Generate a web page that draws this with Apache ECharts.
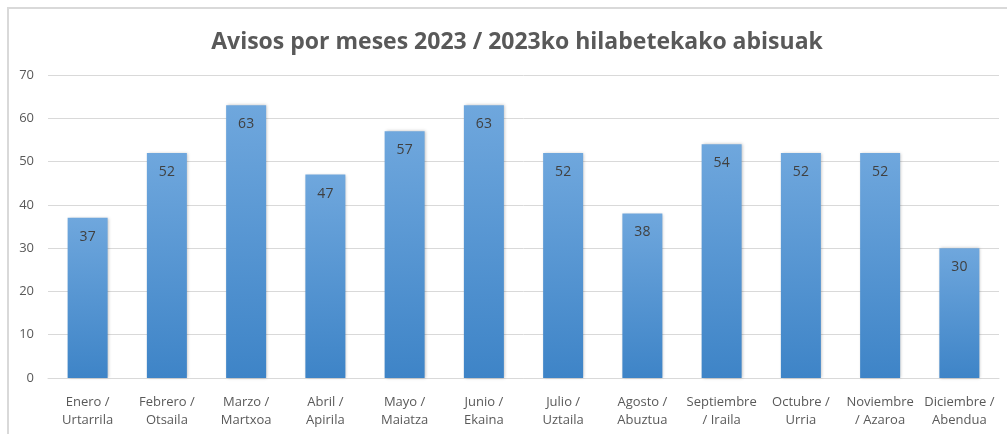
<!DOCTYPE html>
<html>
<head>
<meta charset="utf-8">
<script src="https://cdn.jsdelivr.net/npm/echarts@6/dist/echarts.min.js"></script>
<style>
html, body { margin: 0; padding: 0; background: #fff; }
#frame { position: absolute; left: 7px; top: 7px; width: 1000px; height: 427px; border-left: 2px solid #d9d9d9; border-top: 2px solid #d9d9d9; box-sizing: border-box; }
#chart { position: absolute; left: 0; top: 0; width: 1007px; height: 434px; }
</style>
</head>
<body>
<div id="frame"></div>
<div id="chart"></div>
<script>
const titleText = "Avisos por meses 2023 / 2023ko hilabetekako abisuak"
const months = [
	"Enero /\nUrtarrila", "Febrero /\nOtsaila", "Marzo /\nMartxoa", "Abril /\nApirila",
	"Mayo /\nMaiatza", "Junio /\nEkaina", "Julio /\nUztaila", "Agosto /\nAbuztua",
	"Septiembre\n/ Iraila", "Octubre /\nUrria", "Noviembre\n/ Azaroa", "Diciembre /\nAbendua",
]
const avisos = [37, 52, 63, 47, 57, 63, 52, 38, 54, 52, 52, 30]

const font = "'Open Sans', 'Noto Sans', sans-serif"
const chart = echarts.init(document.getElementById("chart"))
chart.setOption({
	animation: false,
	title: {
		text: titleText,
		left: 512,
		textAlign: "center",
		top: 26,
		textStyle: { color: "#595959", fontSize: 23, fontWeight: "bold", fontFamily: font },
	},
	grid: { left: 48, right: 8, top: 75, bottom: 56 },
	xAxis: {
		type: "category",
		data: months,
		axisTick: { show: false },
		axisLine: { lineStyle: { color: "#d9d9d9", width: 1 } },
		axisLabel: { color: "#595959", fontSize: 13, fontFamily: font, lineHeight: 18, margin: 15, interval: 0 },
	},
	yAxis: {
		type: "value",
		min: 0,
		max: 70,
		interval: 10,
		axisLabel: { color: "#595959", fontSize: 13, fontFamily: font, margin: 14 },
		splitLine: { lineStyle: { color: "#d9d9d9", width: 1 } },
	},
	series: [
		{
			type: "bar",
			data: avisos,
			barWidth: 40,
			itemStyle: {
				color: new echarts.graphic.LinearGradient(0, 0, 0, 1, [
					{ offset: 0, color: "#6fa7dd" },
					{ offset: 1, color: "#3e84c7" },
				]),
				shadowColor: "rgba(0,0,0,0.25)",
				shadowBlur: 3,
				shadowOffsetX: 1,
			},
			label: {
				show: true,
				position: "insideTop",
				distance: 12,
				color: "#404040",
				fontSize: 14,
				fontFamily: font,
			},
		},
	],
})
</script>
</body>
</html>
